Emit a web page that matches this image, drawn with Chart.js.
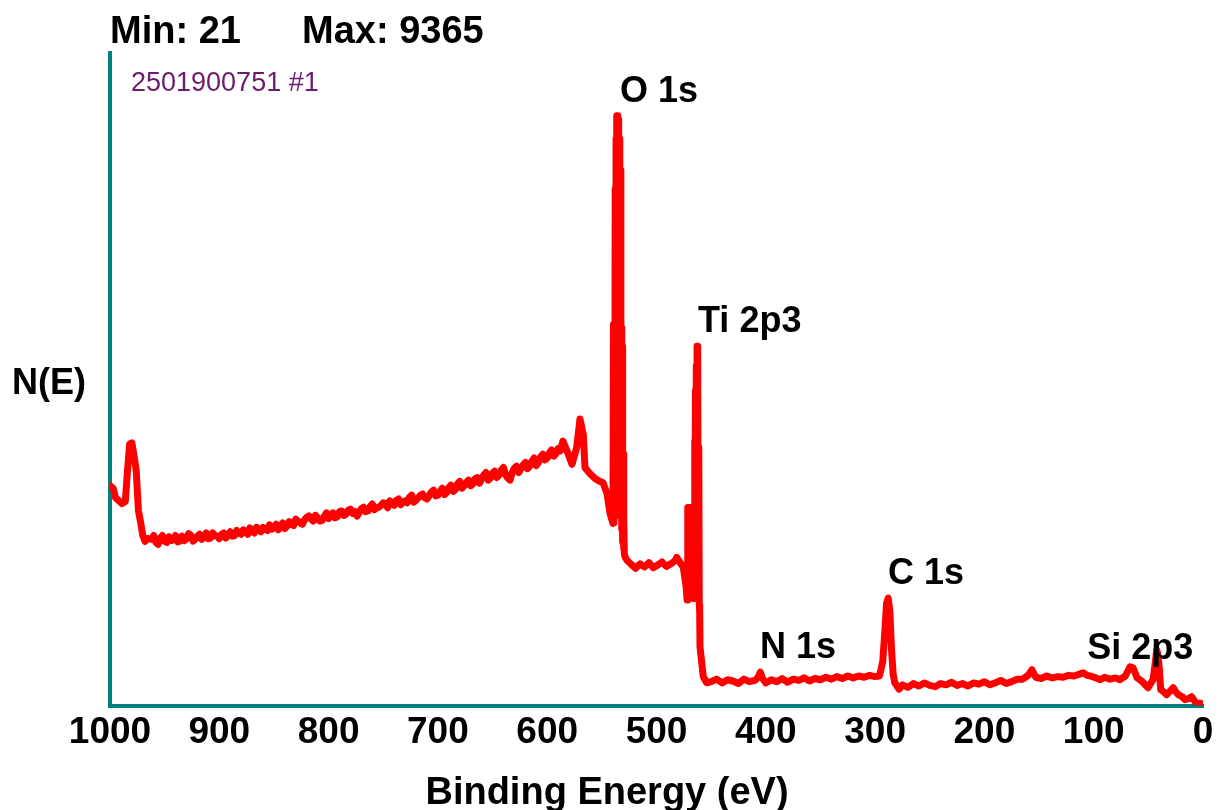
<!DOCTYPE html>
<html>
<head>
<meta charset="utf-8">
<script src="https://cdn.jsdelivr.net/npm/chart.js@4.4.1/dist/chart.umd.min.js"></script>
<style>
  body { margin: 0; background: #fff; }
  canvas { display: block; }
</style>
</head>
<body>
<canvas id="espectro" width="1225" height="810"></canvas>
<script>
// Energia de ligação (eV)
const bindingEnergy = [
  // pico Auger O KLL
  1000, 997, 995, 992, 989, 986, 984, 982, 980, 978,
  976, 975, 974, 972, 970, 968, 966,
  // fundo subindo até ~590 eV
  962, 960, 958, 956, 954, 952, 950, 948, 946, 944,
  942, 940, 938, 936, 934, 932, 930, 928, 926, 924,
  922, 920, 918, 916, 914, 912, 910, 908, 906, 904,
  902, 900, 898, 896, 894, 892, 890, 888, 886, 884,
  882, 880, 878, 876, 874, 872, 870, 868, 866, 864,
  862, 860, 858, 856, 854, 852, 850, 848, 846, 844,
  842, 840, 838, 836, 834, 832, 830, 828, 826, 824,
  822, 820, 818, 816, 814, 812, 810, 808, 806, 804,
  802, 800, 798, 796, 794, 792, 790, 788, 786, 784,
  782, 780, 778, 776, 774, 772, 770, 768, 766, 764,
  762, 760, 758, 756, 754, 752, 750, 748, 746, 744,
  742, 740, 738, 736, 734, 732, 730, 728, 726, 724,
  722, 720, 718, 716, 714, 712, 710, 708, 706, 704,
  702, 700, 698, 696, 694, 692, 690, 688, 686, 684,
  682, 680, 678, 676, 674, 672, 670, 668, 666, 664,
  662, 660, 658, 656, 654, 652, 650, 648, 646, 644,
  642, 640, 638, 636, 634, 632, 630, 628, 626, 624,
  622, 620, 618, 616, 614, 612, 610, 608, 606, 604,
  602, 600, 598, 596, 594, 592, 590,
  // antes do O 1s
  588, 585.6, 582, 577.3, 573, 570, 567, 565.4, 560.8, 556,
  552, 548.9, 545.3, 542.5,
  // O 1s
  539.8, 539.4, 539, 538.6, 538.2, 537.8, 537.4, 537, 536.6, 536.2,
  535.8, 535.4, 535, 534.6, 534.2, 533.8, 533.4, 533, 532.6, 532.2,
  531.8, 531.4, 531, 530.6, 530.2, 529.8, 529.4, 528.6,
  // patamar entre O 1s e Ti 2p
  527, 523, 519, 515, 511, 507, 503, 499, 495, 491,
  487, 483, 481.5, 478, 475.5, 473,
  // Ti 2p
  472, 471.6, 471.2, 470.8, 470.4, 470, 469.6, 469.2, 468.8, 468.4,
  468, 467.6, 467.2, 466.8, 466.4, 466, 465.6, 465.2, 464.8, 464.4,
  464, 463.6, 463.2, 462.9, 462.5, 462.1, 461.7, 461.3, 460.9, 460.5,
  460.2, 457.2, 454.1,
  // fundo baixo, N 1s, C 1s
  450, 445, 440, 435, 430, 425, 420, 415, 410, 407,
  405, 403, 400, 395, 390, 385, 380, 375, 370, 365,
  360, 355, 350, 345, 340, 335, 330, 325, 320, 315,
  310, 305, 300, 296, 293, 291, 289.5, 288, 286.5, 285,
  283.5, 282, 278, 275, 270, 265, 260, 255, 250, 245,
  240, 235, 230, 225, 220, 215, 210, 205, 200, 195,
  190, 185, 180, 175, 170, 165, 160, 156.5, 153, 148,
  143, 138, 133, 128, 123, 118, 113, 109.5, 106, 103,
  98, 94, 90, 85, 80, 76, 71, 66.8, 64, 60.4,
  57, 54.6, 50.3, 45.7, 43.5, 42.4, 41.2, 40, 38.7, 36,
  33.3, 30, 27.3, 25, 22.6, 19, 16.5, 13, 10.4, 8,
  5.8, 3, 0
];

// Contagens N(E) em cada energia (mesma ordem)
const counts = [
  3492, 3444, 3302, 3255, 3207, 3239, 3729, 4155, 4171, 3966,
  3729, 3413, 3097, 2907, 2702, 2607, 2654,

  2640, 2700, 2590, 2560, 2660, 2700, 2610, 2590, 2680, 2620,
  2630, 2700, 2600, 2610, 2690, 2620, 2650, 2730, 2700, 2610,
  2640, 2690, 2720, 2640, 2670, 2740, 2650, 2660, 2740, 2700,
  2690, 2650, 2720, 2740, 2660, 2700, 2760, 2690, 2700, 2780,
  2740, 2720, 2790, 2770, 2720, 2820, 2780, 2740, 2830, 2800,
  2760, 2830, 2800, 2780, 2870, 2800, 2820, 2880, 2790, 2840,
  2900, 2810, 2850, 2920, 2880, 2860, 2960, 2930, 2900, 2880,
  2950, 2990, 3010, 2960, 2930, 3020, 2980, 2930, 2940, 3000,
  3060, 2970, 3000, 3060, 2980, 3000, 3080, 3090, 3020, 3040,
  3100, 3120, 3050, 3080, 3010, 3060, 3130, 3150, 3080, 3090,
  3160, 3200, 3110, 3140, 3150, 3180, 3220, 3210, 3140, 3250,
  3200, 3180, 3260, 3280, 3190, 3230, 3250, 3220, 3310, 3340,
  3230, 3260, 3300, 3340, 3360, 3300, 3280, 3330, 3390, 3420,
  3330, 3340, 3400, 3450, 3350, 3380, 3460, 3500, 3400, 3430,
  3520, 3560, 3450, 3490, 3540, 3580, 3490, 3520, 3600, 3620,
  3530, 3600, 3660, 3700, 3580, 3610, 3690, 3720, 3620, 3660,
  3740, 3780, 3660, 3610, 3580, 3700, 3770, 3800, 3700, 3760,
  3820, 3860, 3760, 3800, 3880, 3930, 3810, 3860, 3950, 3990,
  3900, 3930, 4010, 4060, 3960, 4000, 4080,

  4045, 4200, 4050, 3830, 4100, 4550, 4300, 3776, 3681, 3600,
  3560, 3539, 3365, 3049,

  2891, 6051, 2900, 6051, 3000, 8200, 3200, 9000, 3500, 9365,
  3800, 9365, 3600, 9300, 3400, 9000, 3200, 8500, 3000, 6000,
  2800, 5700, 2600, 4000, 2500, 3000, 2400, 2354,

  2307, 2240, 2180, 2250, 2200, 2270, 2190, 2230, 2280, 2210,
  2250, 2300, 2354, 2260, 2196, 1900,

  1675, 3144, 1900, 3000, 1800, 3144, 2000, 3100, 1750, 3144,
  1900, 3000, 1800, 3050, 1700, 2600, 1800, 4200, 2000, 5000,
  2200, 5400, 2400, 5704, 2000, 5200, 1800, 4100, 1600, 1500,
  932, 458, 363,

  380, 420, 360, 410, 390, 350, 420, 380, 400, 450,
  530, 430, 360, 410, 380, 430, 370, 420, 400, 440,
  390, 430, 410, 450, 420, 460, 430, 470, 440, 470,
  450, 480, 460, 470, 700, 1200, 1627, 1706, 1500, 900,
  500, 363, 260, 330, 290, 350, 310, 360, 320, 300,
  350, 330, 370, 320, 350, 310, 360, 340, 380, 330,
  360, 400, 350, 380, 420, 420, 480, 569, 450, 430,
  470, 440, 460, 450, 480, 470, 500, 521, 480, 470,
  440, 411, 450, 420, 440, 411, 470, 616, 600, 442,
  400, 363, 284, 411, 700, 885, 800, 600, 253, 220,
  174, 230, 284, 220, 174, 140, 95, 110, 142, 80,
  32, 40, 21
];

// Rótulos dos picos: nome, energia e altura do pico
const peakNames = ['O 1s', 'Ti 2p3', 'N 1s', 'C 1s', 'Si 2p3'];
const peakEnergies = [533.4, 462, 405.3, 288.2, 106];
const peakCounts = [9365, 5704, 530, 1706, 521];

// Ticks do eixo X
const xTicks = [1000, 900, 800, 700, 600, 500, 400, 300, 200, 100, 0];

const sampleId = '2501900751 #1';
const fonte = '"Liberation Sans", Arial, Helvetica, sans-serif';

const minCount = Math.min(...counts);
const maxCount = Math.max(...counts);

// Plugin simples para os textos do gráfico
const textos = {
    id: 'textos',
    afterDraw(chart) {
        const ctx = chart.ctx;
        const sx = chart.scales.x;
        const sy = chart.scales.y;
        ctx.save();
        ctx.fillStyle = '#000';
        ctx.textBaseline = 'alphabetic';
        ctx.textAlign = 'left';
        ctx.font = 'bold 38px ' + fonte;
        ctx.fillText('Min: ' + minCount, 110, 43);
        ctx.fillText('Max: ' + maxCount, 302, 43);

        ctx.font = 'bold 36px ' + fonte;
        ctx.fillText('N(E)', 12, 394);
        peakNames.forEach((nome, i) => {
            const px = sx.getPixelForValue(peakEnergies[i]);
            const py = sy.getPixelForValue(peakCounts[i]) - 14;
            ctx.fillText(nome, px, py);
        });

        ctx.textAlign = 'center';
        ctx.font = 'bold 38px ' + fonte;
        ctx.fillText('Binding Energy (eV)', 607, 804);

        ctx.textAlign = 'left';
        ctx.fillStyle = '#6E1A6E';
        ctx.font = '27px ' + fonte;
        ctx.fillText(sampleId, 131, 91);
        ctx.restore();
    }
};

const contexto = document.getElementById('espectro').getContext('2d');

new Chart(contexto, {
    type: 'line',
    data: {
        datasets: [{
            data: bindingEnergy.map((e, i) => ({ x: e, y: counts[i] })),
            borderColor: '#FF0000',
            borderWidth: 7,
            borderJoinStyle: 'round',
            borderCapStyle: 'round',
            pointRadius: 0,
            tension: 0,
            fill: false
        }]
    },
    options: {
        responsive: false,
        animation: false,
        layout: { padding: { left: 110, right: 22, top: 53, bottom: 50 } },
        plugins: {
            legend: { display: false },
            tooltip: { enabled: false }
        },
        scales: {
            x: {
                type: 'linear',
                reverse: true,
                min: 0,
                max: 1000,
                afterBuildTicks: (scale) => { scale.ticks = xTicks.map(v => ({ value: v })); },
                grid: { display: false, drawTicks: false },
                border: { color: '#008080', width: 4 },
                ticks: {
                    color: '#000',
                    padding: 5,
                    maxRotation: 0,
                    autoSkip: false,
                    font: { family: fonte, size: 37, weight: 'bold' },
                    callback: (v) => String(v)
                }
            },
            y: {
                type: 'linear',
                min: 0,
                max: 10360,
                grid: { display: false, drawTicks: false },
                border: { color: '#008080', width: 4 },
                ticks: { display: false }
            }
        }
    },
    plugins: [textos]
});
</script>
</body>
</html>
